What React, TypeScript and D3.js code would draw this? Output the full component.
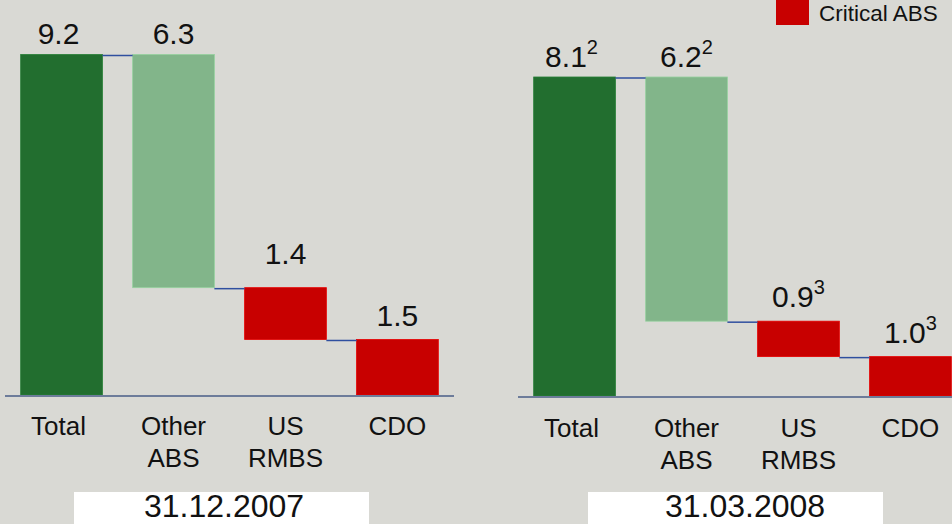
import React from "react";
import * as d3 from "d3";

const categories: string[][] = [["Total"], ["Other", "ABS"], ["US", "RMBS"], ["CDO"]];
const valuesDec07 = [9.2, 6.3, 1.4, 1.5];
const valuesMar08 = [8.1, 6.2, 0.9, 1.0];
const footnotesDec07 = ["", "", "", ""];
const footnotesMar08 = ["2", "2", "3", "3"];
const dates = ["31.12.2007", "31.03.2008"];
const legendLabels = ["Critical ABS"];

const W = 952;
const H = 524;
const FONT = "'Liberation Sans', Arial, sans-serif";
const BG = "#d9d9d4";
const COLORS = ["#226e2f", "#82b58a", "#c80000", "#c80000"];

type Panel = {
  values: number[];
  notes: string[];
  date: string;
  x0: number;
  x1: number;
  axisStart: number;
  axisEnd: number;
  base: number;
  top: number;
  catY: number;
  gaps: number[];
  boxX: number;
  dateX: number;
};

const panels: Panel[] = [
  {
    values: valuesDec07, notes: footnotesDec07, date: dates[0],
    x0: 5, x1: 454, axisStart: 5, axisEnd: 454, base: 395, top: 54.5, catY: 435,
    gaps: [11, 11, 24, 13], boxX: 74, dateX: 224,
  },
  {
    values: valuesMar08, notes: footnotesMar08, date: dates[1],
    x0: 518, x1: 967, axisStart: 518, axisEnd: 952, base: 396, top: 77, catY: 437,
    gaps: [10, 10, 14, 14], boxX: 588, dateX: 745,
  },
];

function Chart({ p }: { p: Panel }) {
  const names = categories.map((c) => c.join(" "));
  const x = d3.scaleBand<string>().domain(names).range([p.x0, p.x1]).paddingInner(0.27).paddingOuter(0.14);
  const total = p.values[0];
  const y = d3.scaleLinear().domain([0, total]).range([p.base, p.top]);

  const segs: { lo: number; hi: number }[] = [];
  let run = total;
  p.values.forEach((v, i) => {
    if (i === 0) segs.push({ lo: 0, hi: v });
    else {
      segs.push({ lo: run - v, hi: run });
      run = run - v;
    }
  });

  const bw = x.bandwidth();
  return (
    <g>
      {segs.map((s, i) => (
        <rect
          key={"b" + i}
          x={x(names[i])!}
          y={y(s.hi)}
          width={bw}
          height={y(s.lo) - y(s.hi)}
          fill={COLORS[i]}
          stroke={d3.color(COLORS[i])!.brighter(0.4).toString()}
          strokeWidth={0.8}
        />
      ))}
      {segs.slice(0, -1).map((s, i) => (
        <line
          key={"c" + i}
          x1={x(names[i])! + bw}
          x2={x(names[i + 1])!}
          y1={y(s.lo === 0 ? s.hi : s.lo) + 1}
          y2={y(s.lo === 0 ? s.hi : s.lo) + 1}
          stroke="#2f4f9f"
          strokeWidth={1.5}
        />
      ))}
      <line x1={p.axisStart} x2={p.axisEnd} y1={p.base + 1} y2={p.base + 1} stroke="#6d7c9a" strokeWidth={2} />
      {segs.map((s, i) => (
        <text
          key={"v" + i}
          x={x(names[i])! + bw / 2 - (i === 0 ? 3 : 0)}
          y={y(s.hi) - p.gaps[i]}
          textAnchor="middle"
          fontFamily={FONT}
          fontSize={30}
          fill="#111"
        >
          {d3.format(".1f")(p.values[i])}
          {p.notes[i] ? (
            <tspan fontSize={20} dy={-13}>
              {p.notes[i]}
            </tspan>
          ) : null}
        </text>
      ))}
      {categories.map((lines, i) => (
        <text
          key={"k" + i}
          x={x(names[i])! + bw / 2}
          y={p.catY}
          textAnchor="middle"
          fontFamily={FONT}
          fontSize={26}
          fill="#111"
        >
          {lines.map((l, j) => (
            <tspan key={j} x={x(names[i])! + bw / 2 - (i === 0 ? 3 : 0)} dy={j === 0 ? 0 : 32}>
              {l}
            </tspan>
          ))}
        </text>
      ))}
      <rect x={p.boxX} y={492} width={295} height={40} fill="#ffffff" />
      <text x={p.dateX} y={517} textAnchor="middle" fontFamily={FONT} fontSize={32} fill="#111">
        {p.date}
      </text>
    </g>
  );
}

export default function App() {
  React.useEffect(() => {
    document.body.style.margin = "0";
  }, []);
  return (
    <svg
      width={W}
      height={H}
      viewBox={`0 0 ${W} ${H}`}
      style={{ position: "absolute", left: 0, top: 0, display: "block" }}
    >
      <rect x={0} y={0} width={W} height={H} fill={BG} />
      {panels.map((p, i) => (
        <Chart key={i} p={p} />
      ))}
      {legendLabels.map((l, i) => (
        <g key={l}>
          <rect x={776} y={-8 + i * 30} width={33} height={33} fill="#c80000" />
          <text x={819} y={21 + i * 30} fontFamily={FONT} fontSize={22.5} fill="#111">
            {l}
          </text>
        </g>
      ))}
    </svg>
  );
}
